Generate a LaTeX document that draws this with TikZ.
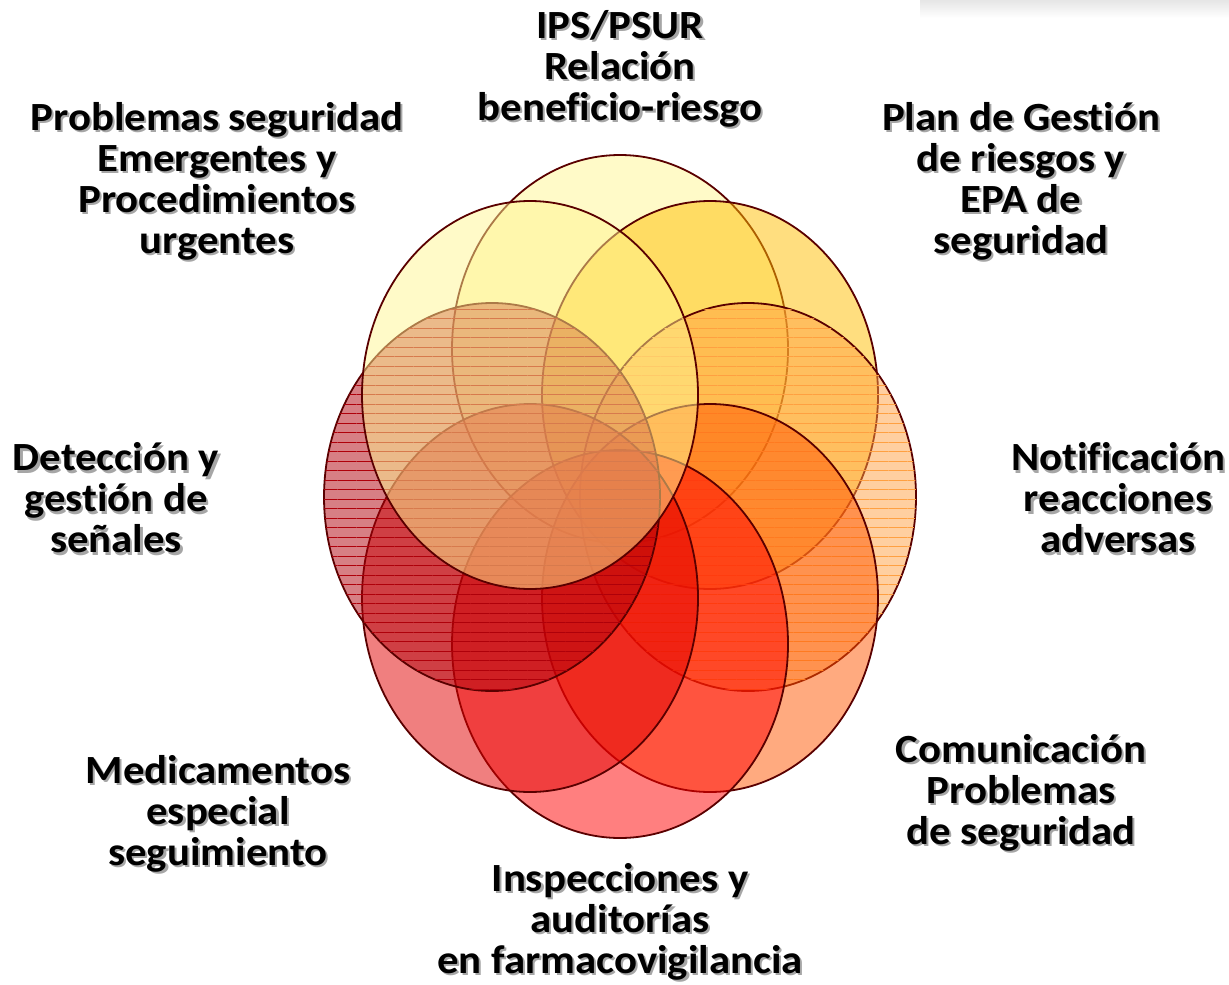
\documentclass[tikz,border=0pt]{standalone}
\usepackage{fontspec}
\setmainfont{Carlito}[FakeStretch=1.07, Ligatures={NoCommon}]
\usetikzlibrary{patterns.meta}

\definecolor{rim}{RGB}{90,0,0}
\definecolor{colN}{RGB}{255,245,145}
\definecolor{colNE}{RGB}{255,190,0}
\definecolor{colE}{RGB}{255,160,65}
\definecolor{colSE}{RGB}{255,85,0}
\definecolor{colS}{RGB}{255,0,0}
\definecolor{colSW}{RGB}{225,0,0}
\definecolor{colW}{RGB}{175,0,10}
\definecolor{colNW}{RGB}{255,245,145}

\tikzset{
  petal/.style={draw=rim, line width=0.9pt, fill=#1, fill opacity=0.5},
  striped/.style={postaction={pattern={Lines[angle=0,distance=4.75pt,line width=0.5pt]},
      pattern color=#1, fill opacity=0.45}},
  lbl/.style={align=center, inner sep=0pt, text=black,
      font=\bfseries\fontsize{20}{20.5}\selectfont},
  lblshadow/.style={lbl, text=black!35, xshift=1.1pt, yshift=-1.1pt}
}

% text with a soft grey shadow
\newcommand{\shadowlabel}[3]{%
  \node[lblshadow] (#1-s) at (#2) {#3};
  \node[lbl] (#1) at (#2) {#3};
}

\begin{document}
\begin{tikzpicture}[x=0.5pt,y=-0.5pt]
  \useasboundingbox (0,0) rectangle (1229,984);
  \shade[top color=black!10, bottom color=white] (920,0) rectangle (1229,18);

  % petals
  \draw[petal=colN] (620,349) ellipse (84pt and 97pt);
  \draw[petal=colNE] (710,395) ellipse (84pt and 97pt);
  \draw[petal=colE, striped=colE] (748,497) ellipse (84pt and 97pt);
  \draw[petal=colSE] (710,598) ellipse (84pt and 97pt);
  \draw[petal=colS] (620,644) ellipse (84pt and 97pt);
  \draw[petal=colSW] (530,598) ellipse (84pt and 97pt);
  \draw[petal=colW, striped=colW] (492,497) ellipse (84pt and 97pt);
  \draw[petal=colNW] (530,395) ellipse (84pt and 97pt);

  % labels
  \shadowlabel{ips}{620,69}{IPS/PSUR\\Relación\\beneficio-riesgo}
  \shadowlabel{plan}{1021,181}{Plan de Gestión\\de riesgos y\\EPA de\\seguridad}
  \shadowlabel{notif}{1118,498}{Notificación\\reacciones\\adversas}
  \shadowlabel{comun}{1021,793}{Comunicación\\Problemas\\de seguridad}
  \shadowlabel{insp}{620,922}{Inspecciones y\\auditorías\\en farmacovigilancia}
  \shadowlabel{medic}{218,814}{Medicamentos\\especial\\seguimiento}
  \shadowlabel{detec}{116,498}{Detección y\\gestión de\\señales}
  \shadowlabel{probl}{217,181}{Problemas seguridad\\Emergentes y\\Procedimientos\\urgentes}
\end{tikzpicture}
\end{document}
